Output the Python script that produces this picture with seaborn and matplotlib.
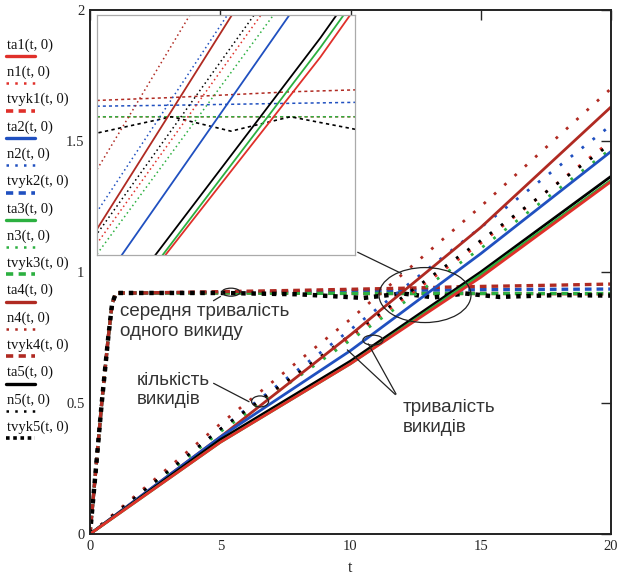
import numpy as np
import pandas as pd
import matplotlib
matplotlib.use("Agg")
import matplotlib.pyplot as plt
import seaborn as sns
from matplotlib.patches import Ellipse
from matplotlib.lines import Line2D

sns.set_style("white")
plt.rcParams['font.family'] = ['Liberation Sans', 'DejaVu Sans']

# ---- data ----
t_main = [0, 5, 10, 15, 20]
ta1 = [0, 0.35, 0.65, 0.98, 1.345]
ta2 = [0, 0.37, 0.70, 1.07, 1.46]
ta3 = [0, 0.35, 0.65, 0.99, 1.35]
ta4 = [0, 0.37, 0.76, 1.17, 1.63]
ta5 = [0, 0.36, 0.66, 1.00, 1.365]

n1 = [0, 0.40, 0.75, 1.11, 1.50]
n2 = [0, 0.40, 0.78, 1.17, 1.56]
n3 = [0, 0.39, 0.74, 1.09, 1.47]
n4 = [0, 0.42, 0.82, 1.25, 1.70]
n5 = [0, 0.40, 0.76, 1.12, 1.49]

t_v = [0, 0.2, 0.45, 0.7, 0.85, 1.0, 2, 5, 8, 10.5, 12.0, 13.2, 14.4, 15.7, 18, 20]
tvyk1 = [0, 0.22, 0.50, 0.75, 0.88, 0.92, 0.92, 0.92, 0.919, 0.918, 0.918, 0.918, 0.918, 0.918, 0.917, 0.916]
tvyk2 = [0, 0.22, 0.50, 0.75, 0.88, 0.92, 0.92, 0.922, 0.925, 0.929, 0.930, 0.931, 0.932, 0.933, 0.934, 0.935]
tvyk3 = [0, 0.22, 0.50, 0.75, 0.88, 0.92, 0.92, 0.92, 0.919, 0.918, 0.918, 0.918, 0.918, 0.918, 0.918, 0.918]
tvyk4 = [0, 0.22, 0.50, 0.75, 0.88, 0.92, 0.92, 0.925, 0.930, 0.935, 0.938, 0.941, 0.944, 0.946, 0.950, 0.954]
tvyk5 = [0, 0.22, 0.50, 0.75, 0.88, 0.92, 0.92, 0.92, 0.915, 0.901, 0.918, 0.903, 0.918, 0.905, 0.912, 0.910]

x_ticks = [0, 5, 10, 15, 20]
y_ticks = [0, 0.5, 1, 1.5, 2]
y_ticklabels = ["0", "0.5", "1", "1.5", "2"]

legend_labels = ["ta1(t, 0)", "n1(t, 0)", "tvyk1(t, 0)",
                 "ta2(t, 0)", "n2(t, 0)", "tvyk2(t, 0)",
                 "ta3(t, 0)", "n3(t, 0)", "tvyk3(t, 0)",
                 "ta4(t, 0)", "n4(t, 0)", "tvyk4(t, 0)",
                 "ta5(t, 0)", "n5(t, 0)", "tvyk5(t, 0)"]

c_red = '#e0302a'
c_blue = '#2050c0'
c_green = '#2cb040'
c_dred = '#b02a22'
c_black = '#000000'
colors = [c_red, c_blue, c_green, c_dred, c_black]

ta_all = [ta1, ta2, ta3, ta4, ta5]
n_all = [n1, n2, n3, n4, n5]
tv_all = [tvyk1, tvyk2, tvyk3, tvyk4, tvyk5]

fig = plt.figure(figsize=(6.22, 5.74), dpi=100)
ax = fig.add_axes([90/622, 1-534/574, 521/622, 524/574])
axin = fig.add_axes([97/622, 1-255/574, 258/622, 240/574])


def draw(a, lw_solid, lw_dot, lw_dash, dot_pat, dash_pat, blk_pat, blk_lw):
    for i in range(5):
        sns.lineplot(x=t_v, y=tv_all[i], ax=a, color=colors[i], sort=False, estimator=None,
                     linewidth=lw_dash if i < 4 else blk_lw,
                     linestyle=(0, dash_pat) if i < 4 else (0, blk_pat))
    for i in range(5):
        sns.lineplot(x=t_main, y=n_all[i], ax=a, color=colors[i], sort=False, estimator=None,
                     linewidth=lw_dot, linestyle=(0, dot_pat))
    for i in [3, 1, 4, 2, 0]:
        sns.lineplot(x=t_main, y=ta_all[i], ax=a, color=colors[i], sort=False, estimator=None,
                     linewidth=lw_solid)


draw(ax, 2.0, 2.0, 2.4, (1, 4), (2, 1.5), (1, 1.3), 3.2)
ax.set_xlim(0, 20)
ax.set_ylim(0, 2)
ax.set_xticks(x_ticks)
ax.set_xticklabels([str(v) for v in x_ticks], fontfamily='Liberation Serif', fontsize=10.5)
ax.set_yticks(y_ticks)
ax.set_yticklabels(y_ticklabels, fontfamily='Liberation Serif', fontsize=10.5)
ax.tick_params(direction='in', length=7, width=1, top=True, right=True, pad=4)
ax.set_xlabel("t", fontfamily='Liberation Serif', fontsize=11.5, labelpad=5)
ax.set_ylabel("")
for s in ax.spines.values():
    s.set_color('#222222')
    s.set_linewidth(1.4)

# inset
draw(axin, 1.3, 1.1, 1.1, (1, 2), (2, 2), (2, 2), 1.2)
axin.set_xlim(10.5, 15.7)
axin.set_ylim(0.774, 1.024)
axin.set_xticks(np.linspace(10.5, 15.7, 5)[1:-1])
axin.set_yticks(np.linspace(0.774, 1.024, 5)[1:-1])
axin.set_xticklabels([])
axin.set_yticklabels([])
axin.set_xlabel("")
axin.set_ylabel("")
axin.tick_params(direction='in', length=4, color='#999999', width=0.8)
for s in axin.spines.values():
    s.set_color('#aaaaaa')
    s.set_linewidth(0.9)

# annotations
def ell(cx, cy, wpx, hpx):
    w = wpx / 521 * 20
    h = hpx / 524 * 2
    ax.add_patch(Ellipse((cx, cy), w, h, fill=False, edgecolor='#222222', linewidth=0.9, zorder=10))

ell(12.86, 0.912, 92, 55)
ell(10.86, 0.74, 20, 10)
ell(6.53, 0.506, 17, 11)
ell(5.41, 0.923, 18, 8)

kw = dict(arrowprops=dict(arrowstyle='-', color='#222222', lw=0.9), annotation_clip=False)
ax.annotate("", xy=(12.05, 0.99), xytext=(10.18, 1.08), **kw)
ax.annotate("", xy=(10.63, 0.735), xytext=(11.8, 0.525), **kw)
ax.annotate("", xy=(9.8, 0.71), xytext=(11.8, 0.525), **kw)
ax.annotate("", xy=(6.2, 0.50), xytext=(4.65, 0.58), **kw)
ax.annotate("", xy=(5.1, 0.912), xytext=(4.65, 0.885), **kw)

txt = dict(fontsize=13.5, color='#333333', va='top', ha='left', linespacing=1.2)
ax.text(1.15, 0.882, "середня тривалість\nодного викиду", **txt)
ax.text(1.8, 0.62, "кількість\nвикидів", **txt)
ax.text(12.0, 0.515, "тривалість\nвикидів", **txt)

# legend (Mathcad-style: label above line sample)
styles = []
for i in range(5):
    styles.append(('-', 2.4))
    styles.append(((0, (1, 2.5)), 1.8))
    styles.append(((0, (2, 1.5)) if i < 4 else (0, (1, 1)), 2.6))
for k, lab in enumerate(legend_labels):
    ytxt = 45 + k * 27.3
    col = colors[k // 3]
    fig.text(7/622, 1 - ytxt/574, lab, fontfamily='Liberation Serif', fontsize=10.5,
             va='center', ha='left', color='#111111')
    yl = 1 - (ytxt + 11)/574
    ls, lw = styles[k]
    fig.add_artist(Line2D([6/622, 35/622], [yl, yl], color=col, linestyle=ls, linewidth=lw,
                          transform=fig.transFigure))

fig.savefig("out.png", dpi=100)
